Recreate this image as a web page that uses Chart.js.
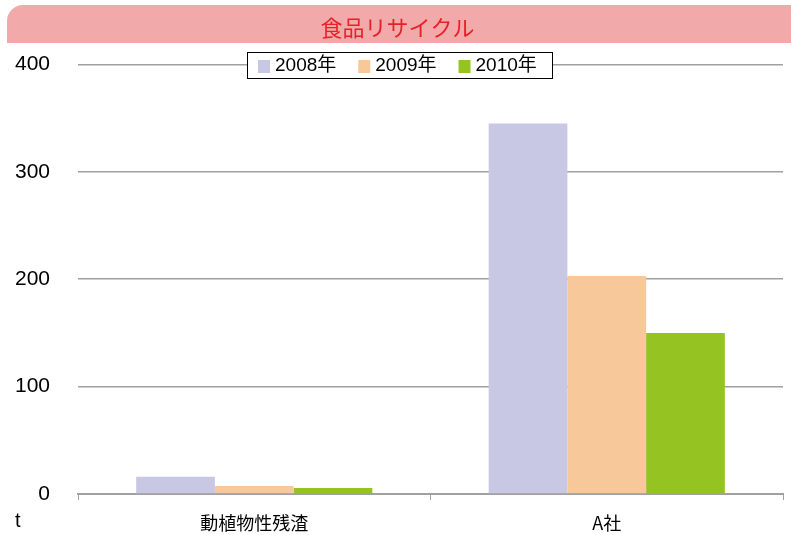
<!DOCTYPE html>
<html>
<head>
<meta charset="utf-8">
<script src="https://cdn.jsdelivr.net/npm/chart.js@4/dist/chart.umd.min.js"></script>
<style>
  html, body { margin: 0; padding: 0; background: #fff; }
  #wrap { width: 791px; height: 535px; position: relative; }
</style>
</head>
<body>
<div id="wrap"><canvas id="chart"></canvas></div>
<script>
// chart data
const titleText = '食品リサイクル';
const categories = ['動植物性残渣', 'A社'];
const seriesNames = ['2008年', '2009年', '2010年'];
const values2008 = [16, 345];
const values2009 = [7.5, 203];
const values2010 = [5.6, 150];
const yTicks = [0, 100, 200, 300, 400];
const unitLabel = 't';

const colors = ['#c8c8e5', '#f7c89a', '#95c322'];
const fontFamily = '"Liberation Sans", "Noto Sans CJK JP", sans-serif';
const cjkFamily = '"Noto Sans CJK JP", sans-serif';

// pink banner behind the title, unit label and the boxed legend
const decorPlugin = {
    id: 'decor',
    beforeDraw(chart) {
        const ctx = chart.ctx;
        ctx.save();
        ctx.fillStyle = '#f2a9a9';
        ctx.beginPath();
        ctx.roundRect(7, 5, 800, 38, [16, 16, 0, 0]);
        ctx.fill();
        ctx.restore();
    },
    afterDraw(chart) {
        const ctx = chart.ctx;
        ctx.save();
        // unit label under the y axis
        ctx.fillStyle = '#000';
        ctx.font = '20px ' + fontFamily;
        ctx.textBaseline = 'middle';
        ctx.textAlign = 'left';
        ctx.fillText(unitLabel, 15, 521);

        // legend box
        const boxX = 247, boxY = 52, boxW = 305, boxH = 26;
        ctx.fillStyle = '#fff';
        ctx.fillRect(boxX, boxY, boxW, boxH);
        ctx.strokeStyle = '#000';
        ctx.lineWidth = 1;
        ctx.strokeRect(boxX + 0.5, boxY + 0.5, boxW, boxH);

        ctx.font = '19px ' + fontFamily;
        let x = boxX + 11;
        chart.data.datasets.forEach(ds => {
            ctx.fillStyle = ds.backgroundColor;
            ctx.fillRect(x, boxY + 8, 12, 13);
            ctx.fillStyle = '#000';
            ctx.fillText(ds.label, x + 17, boxY + 14);
            x += 17 + ctx.measureText(ds.label).width + 22;
        });
        ctx.restore();
    }
};

const ctx = document.getElementById('chart').getContext('2d');
new Chart(ctx, {
    type: 'bar',
    data: {
        labels: categories,
        datasets: [
            { label: seriesNames[0], data: values2008, backgroundColor: colors[0] },
            { label: seriesNames[1], data: values2009, backgroundColor: colors[1] },
            { label: seriesNames[2], data: values2010, backgroundColor: colors[2] }
        ]
    },
    options: {
        responsive: true,
        maintainAspectRatio: false,
        animation: false,
        datasets: {
            bar: {
                barPercentage: 1,
                categoryPercentage: 0.67
            }
        },
        layout: {
            padding: { left: 12, right: 8, top: 0, bottom: 0 }
        },
        plugins: {
            legend: { display: false },
            tooltip: { enabled: false },
            title: {
                display: true,
                text: titleText,
                color: '#e8202a',
                font: { family: cjkFamily, size: 22, weight: 'normal' },
                padding: { top: 14, bottom: 24 }
            }
        },
        scales: {
            x: {
                afterFit(scale) { scale.height = 41; },
                grid: {
                    drawOnChartArea: false,
                    drawTicks: true,
                    tickLength: 6,
                    color: '#a0a0a0',
                    offset: true
                },
                border: { color: '#a0a0a0', width: 2 },
                ticks: {
                    color: '#000',
                    padding: 12,
                    font: { family: cjkFamily, size: 18 }
                }
            },
            y: {
                min: 0,
                max: yTicks[yTicks.length - 1],
                afterBuildTicks(scale) {
                    scale.ticks = yTicks.map(v => ({ value: v }));
                },
                afterFit(scale) { scale.width = 66; },
                grid: {
                    drawTicks: false,
                    color: '#a0a0a0',
                    lineWidth: 1.5
                },
                border: { display: false },
                ticks: {
                    color: '#000',
                    padding: 28,
                    font: { family: fontFamily, size: 21 }
                }
            }
        }
    },
    plugins: [decorPlugin]
});
</script>
</body>
</html>
